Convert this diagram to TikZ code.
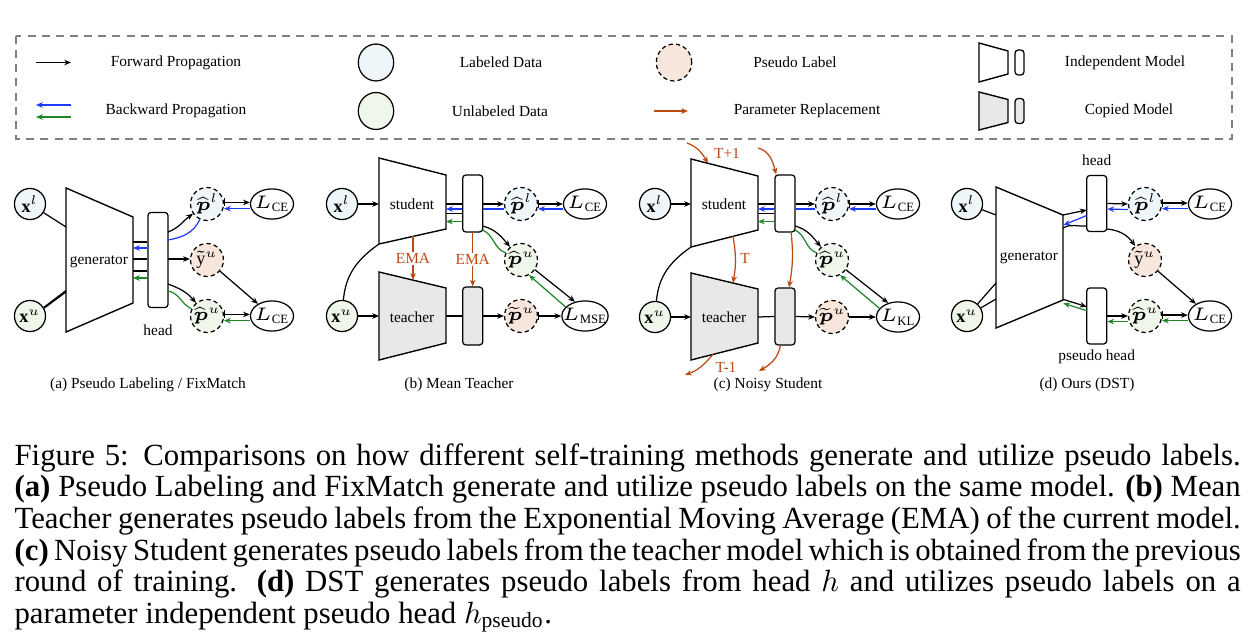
\RequirePackage{fix-cm}
\documentclass[tikz,border=0pt]{standalone}
\usepackage{amsmath}
\usepackage{fontspec}
\setmainfont{Liberation Serif}
\usetikzlibrary{arrows.meta,shapes.geometric}
\definecolor{labeled}{RGB}{238,246,250}
\definecolor{unlabeled}{RGB}{239,246,234}
\definecolor{pseudo}{RGB}{246,230,220}
\definecolor{copied}{RGB}{232,232,232}
\definecolor{bwdblue}{RGB}{30,60,255}
\definecolor{bwdgreen}{RGB}{30,135,40}
\definecolor{replace}{RGB}{184,74,20}

\begin{document}
\begin{tikzpicture}[x=0.325pt,y=0.325pt,line width=0.4pt,>={Stealth[length=2.2pt,width=1.8pt]}]
        \tikzstyle{txt}=[font=\fontsize{5}{6}\selectfont, inner sep=0.5pt]
        \tikzstyle{mth}=[font=\fontsize{5.9}{7}\selectfont]
        \tikzstyle{xdata}=[mth, circle, draw, inner sep=0pt, minimum size=10.1pt]
        \tikzstyle{pdata}=[mth, circle, draw, dash pattern=on 1.4pt off 1pt, inner sep=0pt, minimum size=10.7pt]
        \tikzstyle{loss}=[mth, ellipse, draw, inner sep=0pt, inner xsep=-2pt, minimum width=14pt, minimum height=9.8pt]
        \tikzstyle{key}=[ellipse, draw, inner sep=0pt, minimum width=11.5pt, minimum height=12pt]
        \tikzstyle{headbox}=[draw, rounded corners=1pt, minimum width=6.5pt, inner sep=0pt]
        \tikzstyle{model}=[line width=0.45pt]
        \tikzstyle{bwdb}=[bwdblue, ->]
        \tikzstyle{bwdg}=[bwdgreen, ->]
        \tikzstyle{repl}=[replace, ->]
        \tikzstyle{fwdbar}=[{Bar[width=2.6pt]}->]
        \useasboundingbox (0,0) rectangle (1258,-640);

        % legend
        \draw[gray, line width=0.35pt, dash pattern=on 2.6pt off 2pt] (16,-36) rectangle (1232,-139);
        \coordinate (fwd-s) at (36,-62.5);
        \coordinate (fwd-e) at (71,-62.5);
        \draw[->] (fwd-s) -- (fwd-e);
        \node[txt] (fwd-lbl) at (176,-62.5) {Forward Propagation};
        \coordinate (bwd-s1) at (71,-105);
        \coordinate (bwd-e1) at (36,-105);
        \coordinate (bwd-s2) at (71,-117);
        \coordinate (bwd-e2) at (36,-117);
        \draw[bwdb] (bwd-s1) -- (bwd-e1);
        \draw[bwdg] (bwd-s2) -- (bwd-e2);
        \node[txt] (bwd-lbl) at (176,-111) {Backward Propagation};
        \node[key, fill=labeled] (lab-key) at (376,-62.5) {};
        \node[txt] (lab-lbl) at (501,-62.5) {Labeled Data};
        \node[key, fill=unlabeled] (unl-key) at (376,-111) {};
        \node[txt] (unl-lbl) at (500,-111) {Unlabeled Data};
        \node[key, fill=pseudo, dash pattern=on 1.4pt off 1pt] (psd-key) at (674,-62.5) {};
        \node[txt] (psd-lbl) at (795,-62.5) {Pseudo Label};
        \coordinate (rep-s) at (654,-111);
        \coordinate (rep-e) at (688,-111);
        \draw[repl] (rep-s) -- (rep-e);
        \node[txt] (rep-lbl) at (807,-111) {Parameter Replacement};
        \draw[model] (979,-43) -- (1008,-51) -- (1008,-74) -- (979,-82) -- cycle;
        \node[headbox, minimum width=2.9pt, minimum height=8.1pt] (ind-key) at (1019.5,-62.5) {};
        \node[txt] (ind-lbl) at (1125,-62.5) {Independent Model};
        \draw[model, fill=copied] (979,-92) -- (1008,-99.5) -- (1008,-122.5) -- (979,-130) -- cycle;
        \node[headbox, fill=copied, minimum width=2.9pt, minimum height=8.1pt] (cop-key) at (1019.5,-111) {};
        \node[txt] (cop-lbl) at (1129,-111) {Copied Model};

        % (a) pseudo labeling / fixmatch
        \node[xdata, fill=labeled] (a-xl) at (30,-204) {$\mathbf{x}^l$};
        \node[xdata, fill=unlabeled] (a-xu) at (30,-316) {$\mathbf{x}^u$};
        \draw[model] (66,-188) -- (133,-217) -- (133,-303) -- (66,-332) -- cycle;
        \node[txt] (a-gen) at (99,-262) {generator};
        \node[headbox, minimum height=30.9pt] (a-head) at (158,-260) {};
        \node[txt] (a-headlbl) at (158,-330) {head};
        \node[pdata, fill=labeled] (a-pl) at (207,-204) {$\widehat{\boldsymbol{p}}^l$};
        \node[pdata, fill=pseudo] (a-yu) at (207,-260) {$\tilde{\mathrm{y}}^u$};
        \node[pdata, fill=unlabeled] (a-pu) at (207,-316) {$\widehat{\boldsymbol{p}}^u$};
        \node[loss] (a-lce1) at (272,-204) {$L_{\mathrm{CE}}$};
        \node[loss] (a-lce2) at (272,-316) {$L_{\mathrm{CE}}$};
        \coordinate (a-in1) at (66,-227);
        \coordinate (a-in2) at (66,-290.5);
        \coordinate (a-in3) at (66,-292);
        \draw (a-xl) -- (a-in1);
        \draw (a-xu.32) -- (a-in2);
        \draw (a-xu.29) -- (a-in3);
        \coordinate (a-o1) at (133,-242);
        \coordinate (a-o2) at (133,-248);
        \coordinate (a-o3) at (133,-259);
        \coordinate (a-o4) at (133,-271);
        \coordinate (a-o5) at (133,-278);
        \draw (a-o1) -- (a-o1 -| a-head.west);
        \draw[bwdb] (a-o2 -| a-head.west) -- (a-o2);
        \draw (a-o3) -- (a-o3 -| a-head.west);
        \draw (a-o4) -- (a-o4 -| a-head.west);
        \draw[bwdg] (a-o5 -| a-head.west) -- (a-o5);
        \coordinate (a-h1) at (168,-232);
        \coordinate (a-h2) at (168,-240);
        \coordinate (a-h3) at (168,-259);
        \coordinate (a-h4) at (168,-284);
        \coordinate (a-h5) at (168,-291);
        \draw[->] (a-h1) to[out=20,in=-145] (a-pl.-145);
        \draw[bwdblue] (a-pl.-115) to[out=-115,in=10] (a-h2);
        \draw[->] (a-h3) -- (a-h3 -| a-yu.west);
        \draw[->] (a-h4) to[out=-20,in=130] (a-pu.130);
        \draw[bwdgreen] (a-pu.155) to[out=155,in=-10] (a-h5);
        \draw[fwdbar] ([yshift=0.5pt]a-pl.east) -- ([yshift=0.5pt]a-lce1.west);
        \draw[bwdb] ([yshift=-1.5pt]a-lce1.west) -- ([yshift=-1.5pt]a-pl.east);
        \draw[->] (a-yu) -- (a-lce2);
        \draw[fwdbar] ([yshift=0.5pt]a-pu.east) -- ([yshift=0.5pt]a-lce2.west);
        \draw[bwdg] ([yshift=-1.5pt]a-lce2.west) -- ([yshift=-1.5pt]a-pu.east);
        \node[txt] (a-cap) at (148,-385) {(a) Pseudo Labeling / FixMatch};

        % (b) mean teacher
        \node[xdata, fill=labeled] (b-xl) at (342,-204) {$\mathbf{x}^l$};
        \node[xdata, fill=unlabeled] (b-xu) at (342,-316) {$\mathbf{x}^u$};
        \draw[model] (379,-158) -- (446,-175) -- (446,-229) -- (379,-244) -- cycle;
        \draw[model, fill=copied] (379,-272) -- (446,-288) -- (446,-343) -- (379,-360) -- cycle;
        \node[txt] (b-stu) at (412,-204) {student};
        \node[txt] (b-tea) at (412,-317) {teacher};
        \node[headbox, minimum height=18.5pt] (b-h1) at (472.7,-203.5) {};
        \node[headbox, fill=copied, minimum height=18.8pt] (b-h2) at (472.7,-316) {};
        \node[pdata, fill=labeled] (b-pl) at (521,-204) {$\widehat{\boldsymbol{p}}^l$};
        \node[pdata, fill=unlabeled] (b-pu) at (521,-260) {$\widehat{\boldsymbol{p}}^u$};
        \node[pdata, fill=pseudo] (b-pt) at (521,-316) {$\widetilde{\boldsymbol{p}}^u$};
        \node[loss] (b-lce) at (585,-204) {$L_{\mathrm{CE}}$};
        \node[loss] (b-lmse) at (585,-316) {$L_{\mathrm{MSE}}$};
        \coordinate (b-sin) at (379,-204);
        \coordinate (b-tin) at (379,-316);
        \coordinate (b-scorner) at (379,-244);
        \draw[->] (b-xl) -- (b-sin);
        \draw[->] (b-xu) -- (b-tin);
        \draw (b-xu) to[out=85,in=-145] (b-scorner);
        \coordinate (b-o1) at (446,-204);
        \coordinate (b-o2) at (446,-209);
        \coordinate (b-o3) at (446,-213.5);
        \coordinate (b-o4) at (446,-221.5);
        \coordinate (b-o5) at (446,-316);
        \draw (b-o1) -- (b-o1 -| b-h1.west);
        \draw[bwdb] (b-o2 -| b-h1.west) -- (b-o2);
        \draw (b-o3) -- (b-o3 -| b-h1.west);
        \draw[bwdg] (b-o4 -| b-h1.west) -- (b-o4);
        \draw[->] (b-o1 -| b-h1.east) -- (b-o1 -| b-pl.west);
        \draw[bwdblue] (b-o2 -| b-pl.west) -- (b-o2 -| b-h1.east);
        \coordinate (b-h3) at (482.7,-226);
        \coordinate (b-h4) at (482.7,-230);
        \draw[->] (b-h3) to[out=-15,in=130] (b-pu.130);
        \draw[bwdgreen] (b-pu.155) to[out=160,in=-25] (b-h4);
        \draw[fwdbar] (b-pl.east) -- (b-lce.west);
        \draw[bwdb] ([yshift=-1.6pt]b-lce.west) -- ([yshift=-1.6pt]b-pl.east);
        \draw[->] (b-pu.-35) -- (b-lmse.125);
        \draw[bwdg] (b-lmse.155) -- (b-pu.-62);
        \draw (b-o5) -- (b-h2.west);
        \draw[->] (b-h2.east) -- (b-pt.west);
        \draw[fwdbar] (b-pt.east) -- (b-lmse.west);
        \coordinate (b-sbot) at (413,-236.4);
        \coordinate (b-ttop) at (413,-280);
        \draw[repl] (b-sbot) -- node[txt, fill=white] (b-ema1) {EMA} (b-ttop);
        \draw[repl] (b-h1.south) -- node[txt, fill=white] (b-ema2) {EMA} (b-h2.north);
        \node[txt] (b-cap) at (459,-385) {(b) Mean Teacher};

        % (c) noisy student
        \node[xdata, fill=labeled] (c-xl) at (655,-204) {$\mathbf{x}^l$};
        \node[xdata, fill=unlabeled] (c-xu) at (655,-317) {$\mathbf{x}^u$};
        \draw[model] (691,-159) -- (758,-176) -- (758,-230) -- (691,-247) -- cycle;
        \draw[model, fill=copied] (691,-273) -- (758,-289) -- (758,-343) -- (691,-360) -- cycle;
        \node[txt] (c-stu) at (724,-204) {student};
        \node[txt] (c-tea) at (724,-317) {teacher};
        \node[headbox, minimum height=18.5pt] (c-h1) at (785,-203.5) {};
        \node[headbox, fill=copied, minimum height=18.5pt] (c-h2) at (785,-316.5) {};
        \node[pdata, fill=labeled] (c-pl) at (832,-204) {$\widehat{\boldsymbol{p}}^l$};
        \node[pdata, fill=unlabeled] (c-pu) at (832,-260) {$\widehat{\boldsymbol{p}}^u$};
        \node[pdata, fill=pseudo] (c-pt) at (832,-317) {$\widetilde{\boldsymbol{p}}^u$};
        \node[loss] (c-lce) at (898,-204) {$L_{\mathrm{CE}}$};
        \node[loss] (c-lkl) at (898,-317) {$L_{\mathrm{KL}}$};
        \coordinate (c-sin) at (691,-204);
        \coordinate (c-tin) at (691,-317);
        \coordinate (c-scorner) at (691,-247);
        \draw[->] (c-xl) -- (c-sin);
        \draw[->] (c-xu) -- (c-tin);
        \draw (c-xu) to[out=85,in=-145] (c-scorner);
        \coordinate (c-o1) at (758,-204);
        \coordinate (c-o2) at (758,-209);
        \coordinate (c-o3) at (758,-213.5);
        \coordinate (c-o4) at (758,-221.5);
        \coordinate (c-o5) at (758,-317);
        \draw (c-o1) -- (c-o1 -| c-h1.west);
        \draw[bwdb] (c-o2 -| c-h1.west) -- (c-o2);
        \draw (c-o3) -- (c-o3 -| c-h1.west);
        \draw[bwdg] (c-o4 -| c-h1.west) -- (c-o4);
        \draw[->] (c-o1 -| c-h1.east) -- (c-o1 -| c-pl.west);
        \draw[bwdblue] (c-o2 -| c-pl.west) -- (c-o2 -| c-h1.east);
        \coordinate (c-h3) at (795,-226);
        \coordinate (c-h4) at (795,-230);
        \draw[->] (c-h3) to[out=-15,in=130] (c-pu.130);
        \draw[bwdgreen] (c-pu.155) to[out=160,in=-25] (c-h4);
        \draw[fwdbar] (c-pl.east) -- (c-lce.west);
        \draw[bwdb] ([yshift=-1.6pt]c-lce.west) -- ([yshift=-1.6pt]c-pl.east);
        \draw[->] (c-pu.-35) -- (c-lkl.125);
        \draw[bwdg] (c-lkl.155) -- (c-pu.-62);
        \draw (c-o5) -- (c-h2.west);
        \draw[->] (c-h2.east) -- (c-pt.west);
        \draw[->] (c-pt.east) -- (c-lkl.west);
        \coordinate (c-up1) at (687,-143);
        \coordinate (c-stop) at (708,-163.3);
        \coordinate (c-up2) at (758,-148);
        \draw[repl] (c-up1) to[out=-20,in=120] (c-stop);
        \draw[repl] (c-up2) to[out=-15,in=105] ([xshift=0.6pt]c-h1.north west);
        \node[txt, text=replace] (c-tnext) at (727,-153) {T+1};
        \coordinate (c-sbot) at (733,-236.3);
        \coordinate (c-ttop) at (733,-283);
        \draw[repl] (c-sbot) to[bend left=10] (c-ttop);
        \draw[repl] ([xshift=2pt]c-h1.south) to[bend left=8] ([xshift=1.3pt]c-h2.north);
        \node[txt, text=replace] (c-tnow) at (745,-258) {T};
        \coordinate (c-tbot) at (713,-354.4);
        \coordinate (c-dn1) at (685,-375);
        \coordinate (c-dn2) at (759,-371);
        \draw[repl] (c-tbot) to[out=-130,in=20] (c-dn1);
        \draw[repl] ([xshift=-1.5pt]c-h2.south) to[out=-100,in=30] (c-dn2);
        \node[txt, text=replace] (c-tprev) at (726,-367) {T-1};
        \node[txt] (c-cap) at (768,-385) {(c) Noisy Student};

        % (d) ours
        \node[xdata, fill=labeled] (d-xl) at (967,-204) {$\mathbf{x}^l$};
        \node[xdata, fill=unlabeled] (d-xu) at (967,-316) {$\mathbf{x}^u$};
        \draw[model] (996,-187) -- (1063,-215) -- (1063,-300) -- (996,-328) -- cycle;
        \node[txt] (d-gen) at (1029,-258) {generator};
        \node[headbox, minimum height=18.2pt] (d-h1) at (1096.7,-203.5) {};
        \node[headbox, minimum height=18.2pt] (d-h2) at (1096.7,-316) {};
        \node[txt] (d-headlbl) at (1096.7,-160) {head};
        \node[txt] (d-pheadlbl) at (1096.7,-357) {pseudo head};
        \node[pdata, fill=labeled] (d-pl) at (1145,-204) {$\widehat{\boldsymbol{p}}^l$};
        \node[pdata, fill=pseudo] (d-yu) at (1145,-260) {$\tilde{\mathrm{y}}^u$};
        \node[pdata, fill=unlabeled] (d-pu) at (1145,-316) {$\widehat{\boldsymbol{p}}^u$};
        \node[loss] (d-lce1) at (1210,-204) {$L_{\mathrm{CE}}$};
        \node[loss] (d-lce2) at (1210,-316) {$L_{\mathrm{CE}}$};
        \coordinate (d-in1) at (996,-215);
        \coordinate (d-in2) at (996,-283);
        \coordinate (d-in3) at (996,-299);
        \draw (d-xl) -- (d-in1);
        \draw (d-xu) -- (d-in2);
        \draw (d-xu) -- (d-in3);
        \coordinate (d-o1) at (1063,-215);
        \coordinate (d-o2) at (1063.5,-225);
        \coordinate (d-o3) at (1063,-228);
        \coordinate (d-o4) at (1063,-299.3);
        \coordinate (d-o5) at (1063.3,-303.3);
        \coordinate (d-a1) at (1086.7,-210);
        \coordinate (d-a2) at (1086.7,-215.5);
        \coordinate (d-a3) at (1086.7,-226);
        \coordinate (d-a4) at (1086.7,-306.7);
        \coordinate (d-a5) at (1086.7,-310.7);
        \coordinate (d-b3) at (1106.7,-229);
        \draw[->] (d-o1) -- (d-a1);
        \draw[bwdb] (d-a2) -- (d-o2);
        \draw (d-o3) to[out=30,in=185] (d-a3);
        \draw[->] (d-b3) to[out=-5,in=125] (d-yu.125);
        \draw[->] (d-h1.east) -- (d-pl.west);
        \draw[bwdb] ([yshift=-1.8pt]d-pl.west) -- ([yshift=-1.8pt]d-h1.east);
        \draw[fwdbar] ([yshift=0.3pt]d-pl.east) -- ([yshift=0.3pt]d-lce1.west);
        \draw[bwdb] ([yshift=-1.5pt]d-lce1.west) -- ([yshift=-1.5pt]d-pl.east);
        \draw[->] (d-yu) -- (d-lce2);
        \draw[->] (d-o4) -- (d-a4);
        \draw[bwdg] (d-a5) -- (d-o5);
        \draw[->] (d-h2.east) -- (d-pu.west);
        \draw[bwdg] ([yshift=-1.8pt]d-pu.west) -- ([yshift=-1.8pt]d-h2.east);
        \draw[fwdbar] ([yshift=0.3pt]d-pu.east) -- ([yshift=0.3pt]d-lce2.west);
        \draw[bwdg] ([yshift=-1.5pt]d-lce2.west) -- ([yshift=-1.5pt]d-pu.east);
        \node[txt] (d-cap) at (1087,-385) {(d) Ours (DST)};

        % caption
        \node[anchor=north west, text width=398.5pt, inner sep=0pt, align=justify, font=\fontsize{10}{10.27}\selectfont] (caption) at (14,-443) {Figure 5: Comparisons on how different self-training methods generate and utilize pseudo labels.\linebreak
        \textbf{(a)} Pseudo Labeling and FixMatch generate and utilize pseudo labels on the same model. \textbf{(b)} Mean\linebreak
        Teacher generates pseudo labels from the Exponential Moving Average (EMA) of the current model.\linebreak
        \textbf{(c)} Noisy Student generates pseudo labels from the teacher model which is obtained from the previous\linebreak
        round of training. \textbf{(d)} DST generates pseudo labels from head $h$ and utilizes pseudo labels on a\linebreak
        parameter independent pseudo head $h_{\text{pseudo}}$.};
      \end{tikzpicture}
\end{document}
